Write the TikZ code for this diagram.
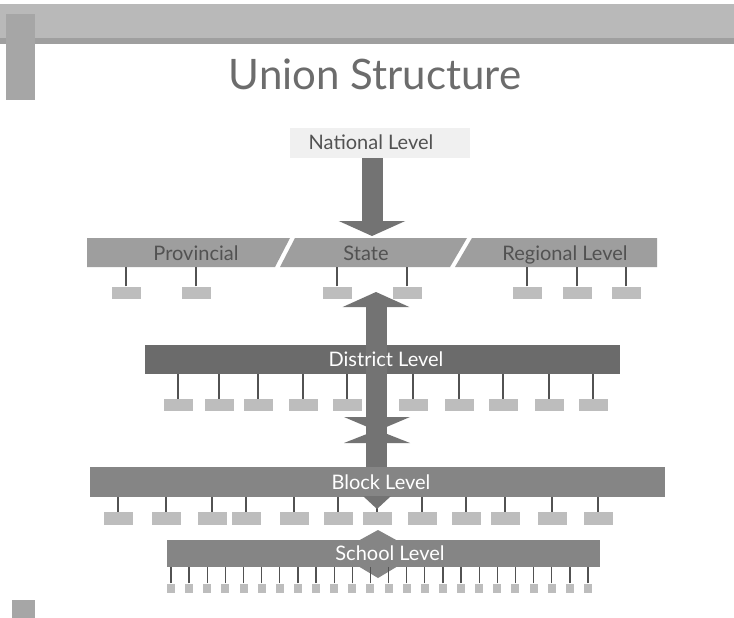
\documentclass[tikz,border=0pt]{standalone}
\usepackage{fontspec}
\setmainfont{Lato}
\usetikzlibrary{arrows.meta}

\definecolor{inkgray}{gray}{0.32}
\definecolor{barlight}{gray}{0.62}
\definecolor{bardark}{gray}{0.42}
\definecolor{barmid}{gray}{0.52}
\definecolor{arrowgray}{gray}{0.45}
\definecolor{boxgray}{gray}{0.74}

\tikzset{
  bar/.style={fill=#1, inner sep=0pt, minimum height=29pt},
  lvl/.style={anchor=base, text=inkgray, font=\fontsize{20}{20}\selectfont},
  lvlwhite/.style={anchor=base, text=white, font=\fontsize{20}{20}\selectfont},
  leaf/.style={fill=boxgray, minimum width=29pt, minimum height=12pt, inner sep=0pt},
  seed/.style={fill=boxgray, minimum width=8pt, minimum height=9pt, inner sep=0pt},
  stem/.style={draw=inkgray, line width=1.5pt},
  fatarrow/.style={draw=arrowgray, line width=21pt,
    -{Triangle[width=66pt 0, length=15pt 0 0]}},
}

\begin{document}
\begin{tikzpicture}[x=1pt, y=-1pt]
    \fill[white] (0,0) rectangle (734,618);
    % slide frame
    \fill[gray!55] (0,4) rectangle (734,40);
    \fill[gray!75] (0,38) rectangle (734,44);
    \fill[gray!70] (6,14) rectangle (35,100);
    \fill[gray!70] (12,600) rectangle (35,618);
    \node[anchor=base, text=gray!85!black, font=\fontsize{42}{42}\selectfont] (title) at (375,90) {Union Structure};

    % national level
    \node[fill=gray!12, minimum width=180pt, minimum height=30pt] (nat) at (380,143) {};
    \node[lvl] (natname) at (371,149) {National Level};
    \coordinate (hit) at (372,236);
    \draw[fatarrow] (hit |- nat.south) -- (hit);

    % provincial / state / regional
    \fill[barlight] (87,238) -- (290,238) -- (275,267) -- (87,267) -- cycle;
    \fill[barlight] (295,238) -- (467,238) -- (450,267) -- (280,267) -- cycle;
    \fill[barlight] (472,238) -- (657,238) -- (657,267) -- (455,267) -- cycle;
    \node[lvl] (prov) at (196,260) {Provincial};
    \node[lvl] (state) at (366,260) {State};
    \node[lvl] (regn) at (565,260) {Regional Level};
    \coordinate (rim) at (0,267);
    \foreach \x [count=\i] in {126,196,337,407,527,577,626} {
        \node[leaf] (s\i) at (\x,292.5) {};
        \draw[stem] (s\i.north) -- (s\i.north |- rim);
    }

    % district level
    \node[bar=bardark, minimum width=475pt] (dist) at (382.5,359.5) {};
    \foreach \x [count=\i] in {178,219,258,303,347,413,459,503,549,593} {
        \node[leaf] (d\i) at (\x,405) {};
        \draw[stem] (d\i.north) -- (d\i.north |- dist.south);
    }

    % block level
    \node[bar=barmid, minimum width=575pt, minimum height=30pt] (blk) at (377.5,482) {};
    \foreach \x [count=\i] in {118,166,212,246,294,338,377,422,466,505,552,598} {
        \node[leaf, minimum height=13pt] (b\i) at (\x,518.5) {};
        \draw[stem] (b\i.north) -- (b\i.north |- blk.south);
    }

    % the long shaft up to the state bar
    \coordinate (mast) at (376,292);
    \draw[fatarrow] (mast |- blk.north) -- (mast);
    \fill[arrowgray] (344,417) -- (410,417) -- (377,431) -- cycle;
    \fill[arrowgray] (344,443) -- (410,443) -- (377,430) -- cycle;
    \fill[arrowgray] (363,496) -- (391,496) -- (377,509) -- cycle;

    \node[lvlwhite] (distname) at (386,366) {District Level};
    \node[lvlwhite] (blkname) at (381,489) {Block Level};

    % school level
    \node[bar=barmid, minimum width=433pt, minimum height=27pt] (sch) at (383.5,553.5) {};
    \fill[barmid] (358,541) -- (378,530) -- (398,541) -- cycle;
    \fill[barmid] (358,566) -- (378,578) -- (398,566) -- cycle;
    \node[lvlwhite] (schname) at (390,560) {School Level};
    \foreach \i in {0,...,23} {
        \node[seed] (k\i) at (171+\i*18.13,588) {};
        \draw[stem, line width=1.3pt] (k\i.north) -- (k\i.north |- sch.south);
    }
\end{tikzpicture}
\end{document}
